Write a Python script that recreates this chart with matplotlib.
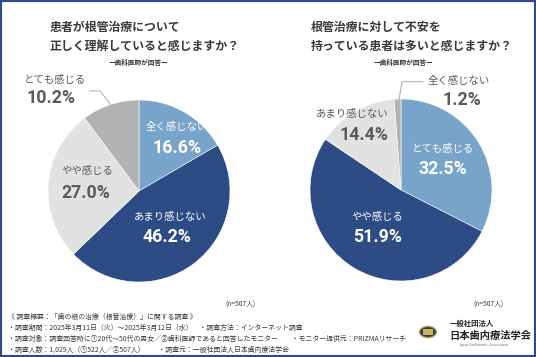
import matplotlib.pyplot as plt
from matplotlib.patches import Rectangle, Circle

plt.rcParams["font.family"] = ["Noto Sans CJK JP", "DejaVu Sans"]

W, H = 536, 357

# Data
left_title = "患者が根管治療について\n正しく理解していると感じますか？"
left_labels = ["全く感じない", "あまり感じない", "やや感じる", "とても感じる"]
left_values = [16.6, 46.2, 27.0, 10.2]

right_title = "根管治療に対して不安を\n持っている患者は多いと感じますか？"
right_labels = ["とても感じる", "やや感じる", "あまり感じない", "全く感じない"]
right_values = [32.5, 51.9, 14.4, 1.2]

subtitle = "ー歯科医師が回答ー"
n_label = "(n=507人)"

footer = [
    "《 調査概要：「歯の根の治療（根管治療）」に関する調査 》",
    "・調査期間：2025年3月11日（火）～2025年3月12日（水）　・調査方法：インターネット調査",
    "・調査対象：調査回答時に①20代～50代の男女／②歯科医師であると回答したモニター　　・モニター提供元：PRIZMAリサーチ",
    "・調査人数：1,029人（①522人／②507人）　　・調査元：一般社団法人日本歯内療法学会",
]

colors = ["#78a4c9", "#2d4b85", "#e2e2e2", "#b2b2b2"]
text_colors = ["white", "white", "#5a5a5a", "#5a5a5a"]
dark = "#3a3a3a"
pct_font = ["Roboto", "DejaVu Sans"]

fig = plt.figure(figsize=(W / 100, H / 100), dpi=100)
fig.patch.set_facecolor("white")


def pie_axes(cx, cy, r):
    ax = fig.add_axes([(cx - r) / W, (H - cy - r) / H, 2 * r / W, 2 * r / H])
    ax.set_xlim(-1, 1)
    ax.set_ylim(-1, 1)
    ax.set_aspect("equal")
    ax.axis("off")
    return ax


def draw_pie(ax, values, labels, pos, leader):
    ax.pie(values, colors=colors, startangle=90, counterclock=False, radius=1,
           wedgeprops=dict(edgecolor="white", linewidth=0.4))
    ax.set_xlim(-1, 1)
    ax.set_ylim(-1, 1)
    for i, (lab, val) in enumerate(zip(labels, values)):
        (lx, ly), (px, py), ha = pos[i]
        ax.text(lx, ly, lab, ha=ha, va="center", fontsize=7.5,
                color=text_colors[i], clip_on=False)
        ax.text(px, py, f"{val:.1f}%", ha=ha, va="center", fontsize=12.8,
                fontweight="bold", family=pct_font, color=text_colors[i],
                clip_on=False)
    xs, ys = zip(*leader)
    ax.plot(xs, ys, color="#aaaaaa", lw=0.7, clip_on=False)


# left pie
axl = pie_axes(139, 191, 91)
left_pos = [
    ((0.42, 0.70), (0.42, 0.47), "center"),
    ((0.34, -0.29), (0.31, -0.50), "center"),
    ((-0.57, 0.22), (-0.58, -0.02), "center"),
    ((-0.92, 1.22), (-0.97, 1.02), "center"),
]
draw_pie(axl, left_values, left_labels, left_pos,
         [(-0.54, 1.10), (-0.43, 1.10), (-0.31, 0.95)])

# right pie
axr = pie_axes(401, 190, 91)
right_pos = [
    ((0.46, 0.45), (0.46, 0.23), "center"),
    ((-0.26, -0.30), (-0.26, -0.52), "center"),
    ((-0.14, 0.84), (-0.14, 0.60), "right"),
    ((0.63, 1.20), (0.67, 0.99), "center"),
]
draw_pie(axr, right_values, right_labels, right_pos,
         [(-0.02, 1.0), (0.01, 1.19), (0.24, 1.19)])

# titles
for x, t, sx in [(50, left_title, 138), (311, right_title, 403)]:
    fig.text(x / W, 1 - 37 / H, t, ha="left", va="center", fontsize=8.6,
             fontweight="bold", color=dark, linespacing=1.55)
    fig.text(sx / W, 1 - 62 / H, subtitle, ha="center", va="center",
             fontsize=4.8, fontweight="bold", color=dark)

for x in (240, 488):
    fig.text(x / W, 1 - 305 / H, n_label, ha="center", va="center",
             fontsize=4.8, color=dark)

for i, line in enumerate(footer):
    fig.text(8 / W, 1 - (317 + 11 * i) / H, line, ha="left", va="center",
             fontsize=4.95, color=dark)

# logo
fig.patches.append(Circle((428 / W, 1 - 332 / H), 8.5 / W, transform=fig.transFigure,
                          facecolor="#1f3a78", edgecolor="#c9a43a", lw=1.0))
fig.patches.append(Rectangle((423 / W, 1 - 335 / H), 10 / W, 6 / H, transform=fig.transFigure,
                             facecolor="#d4b24a", edgecolor="none"))
fig.text(450 / W, 1 - 323 / H, "一般社団法人", ha="left", va="center",
         fontsize=5.3, fontweight="bold", color="#222222")
fig.text(449 / W, 1 - 335.5 / H, "日本歯内療法学会", ha="left", va="center",
         fontsize=7.4, fontweight="bold", color="#222222")
fig.text(484 / W, 1 - 345 / H, "Japan Endodontic Association", ha="center", va="center",
         fontsize=2.3, family="DejaVu Serif", color="#777777")

# frame
fig.patches.append(Rectangle((0, 0), 1, 1, transform=fig.transFigure,
                             facecolor="none", edgecolor="#2d4b85", lw=3.0))

fig.savefig("out.png", dpi=100)
